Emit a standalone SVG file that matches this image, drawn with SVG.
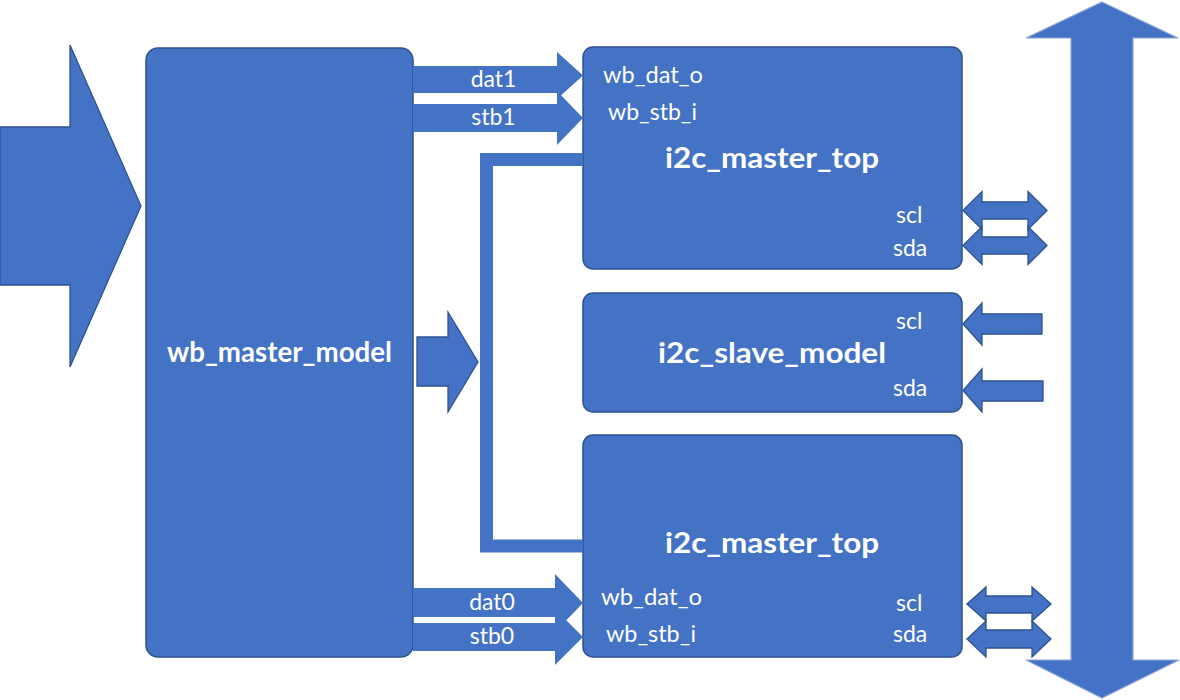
<svg xmlns="http://www.w3.org/2000/svg" width="1180" height="700" viewBox="0 0 1180 700">
<style>
.box{fill:#4472C4;stroke:#2F528F;stroke-width:1.5}
.arr{fill:#4472C4;stroke:#2F528F;stroke-width:1.3;stroke-linejoin:miter}
.flat{fill:#4472C4;stroke:none}
.big{fill:#4472C4;stroke:#8FA6D0;stroke-width:1.2}
.t{fill:#FFFFFF;font-family:Lato,"Liberation Sans",sans-serif;font-size:23px}
.b{fill:#FFFFFF;font-family:Lato,"Liberation Sans",sans-serif;font-size:28px;font-weight:bold;text-anchor:middle}
.m{text-anchor:middle}
</style>
<rect width="1180" height="700" fill="#FFFFFF"/>
<g id="input-arrow">
<polygon class="arr" points="0,127 70,127 70,45 141,206 70,367 70,285 0,285"/>
</g>
<g id="wb_master_model">
<rect class="box" x="146" y="48" width="267" height="609" rx="12"/>
<text class="b" x="279.5" y="362" textLength="225" lengthAdjust="spacingAndGlyphs">wb_master_model</text>
</g>
<g id="i2c_master_top_1">
<rect class="box" x="583" y="47" width="379" height="222" rx="10"/>
<text class="t" x="603" y="83" textLength="100" lengthAdjust="spacingAndGlyphs">wb_dat_o</text>
<text class="t" x="608" y="120" textLength="89" lengthAdjust="spacingAndGlyphs">wb_stb_i</text>
<text class="b" x="772" y="168" textLength="214" lengthAdjust="spacingAndGlyphs">i2c_master_top</text>
<text class="t" x="896" y="223">scl</text>
<text class="t" x="893" y="256">sda</text>
</g>
<g id="i2c_slave_model">
<rect class="box" x="583" y="293" width="379" height="119" rx="10"/>
<text class="t" x="896" y="329">scl</text>
<text class="b" x="772" y="363" textLength="228" lengthAdjust="spacingAndGlyphs">i2c_slave_model</text>
<text class="t" x="893" y="396">sda</text>
</g>
<g id="i2c_master_top_0">
<rect class="box" x="583" y="435" width="379" height="222" rx="10"/>
<text class="b" x="772" y="553" textLength="214" lengthAdjust="spacingAndGlyphs">i2c_master_top</text>
<text class="t" x="601" y="605" textLength="101" lengthAdjust="spacingAndGlyphs">wb_dat_o</text>
<text class="t" x="606" y="642" textLength="90" lengthAdjust="spacingAndGlyphs">wb_stb_i</text>
<text class="t" x="896" y="611">scl</text>
<text class="t" x="893" y="642">sda</text>
</g>
<g id="i2c-bus">
<polygon class="big" points="1102,2 1178,38 1133,38 1133,660 1179,660 1102,698 1026,660 1071,660 1071,38 1026,38"/>
</g>
<g id="connectors">
<polygon class="flat" points="413,66 557,66 557,52 583,75.5 557,99 557,93 413,93"/>
<polygon class="flat" points="413,104 557,104 557,91 583,118 557,145 557,132 413,132"/>
<text class="t m" x="493.5" y="87">dat1</text>
<text class="t m" x="493.5" y="125">stb1</text>
<polygon class="flat" points="413,588 555,588 555,574 583,603 555,632 555,617 413,617"/>
<polygon class="flat" points="413,623 555,623 555,609 583,637 555,665 555,651 413,651"/>
<text class="t m" x="492" y="610">dat0</text>
<text class="t m" x="492" y="644">stb0</text>
<path d="M583,159.5 H486.5 V546 H583" fill="none" stroke="#4472C4" stroke-width="13"/>
<polygon class="arr" points="417,337 448,337 448,312 478,362 448,412 448,386 417,386"/>
<polygon class="arr" points="963,210.5 982,191.5 982,202 1028,202 1028,191.5 1047,210.5 1028,229.5 1028,219 982,219 982,229.5"/>
<polygon class="arr" points="963,245.5 982,226.5 982,237 1028,237 1028,226.5 1047,245.5 1028,264.5 1028,254 982,254 982,264.5"/>
<polygon class="arr" points="963,324 982,303 982,314 1042,314 1042,334 982,334 982,345"/>
<polygon class="arr" points="963,390.5 982,369 982,381 1043,381 1043,401 982,401 982,412"/>
<polygon class="arr" points="967,604 986,587 986,596 1032,596 1032,587 1051,604 1032,621 1032,613 986,613 986,621"/>
<polygon class="arr" points="967,639 986,621 986,630 1032,630 1032,621 1051,639 1032,657 1032,648 986,648 986,657"/>
</g>
</svg>
